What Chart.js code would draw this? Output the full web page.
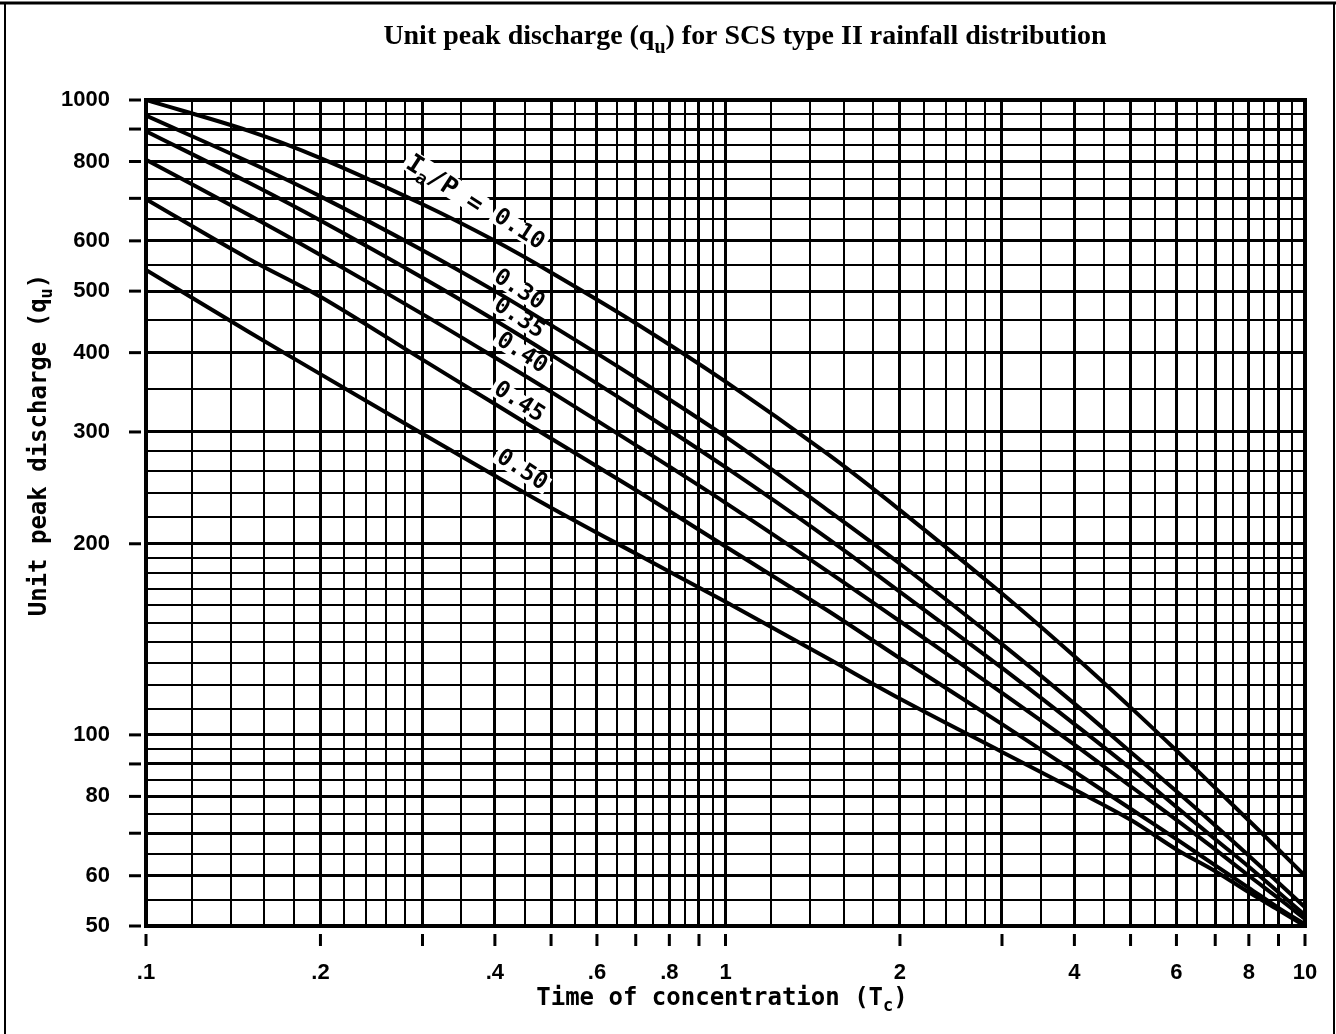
<!DOCTYPE html>
<html><head><meta charset="utf-8">
<script src="https://cdn.jsdelivr.net/npm/chart.js@4.4.0/dist/chart.umd.min.js"></script>
<style>html,body{margin:0;padding:0;background:#fff;} #wrap{width:1336px;height:1034px;position:relative;}</style>
</head><body><div id="wrap"><canvas id="c" width="1336" height="1034"></canvas></div>
<script>
// ---- data ----
const tc   = [0.1, 0.15, 0.2, 0.3, 0.4, 0.5, 0.7, 1, 1.5, 2, 3, 4, 5, 6, 7, 8, 9, 10];
const q010 = [1000, 895, 810, 685, 600, 535, 445, 360, 277, 226, 167, 133, 110.5, 94.5, 82.5, 73.3, 66, 60];
const q030 = [945, 800, 705, 580, 500, 442, 365, 295, 226, 186, 139, 112, 94, 81.5, 72, 64.5, 58.5, 53.5];
const q035 = [893, 742, 646, 525, 450, 397, 327, 264, 204, 168, 127.5, 104, 88.5, 77, 68.5, 62, 56.5, 52];
const q040 = [805, 660, 570, 460, 393, 347, 286, 232, 181, 151, 116.5, 96.5, 83, 73.5, 66, 60, 55.3, 51.3];
const q045 = [698, 563, 490, 390, 332, 293, 243, 198, 157, 132, 104, 87.5, 76.5, 68.5, 62.3, 57.4, 53.4, 50.3];
const q050 = [540, 432, 370, 298, 256, 228, 193, 162, 132, 114, 94, 82, 73.5, 66, 61, 56.5, 53, 50];
const seriesNames = ['0.10', '0.30', '0.35', '0.40', '0.45', '0.50'];
const seriesValues = [q010, q030, q035, q040, q045, q050];

// grid / tick values
const xGrid = [0.1,0.12,0.14,0.16,0.18,0.2,0.22,0.24,0.26,0.28,0.3,0.35,0.4,0.45,0.5,0.55,0.6,0.65,0.7,0.75,0.8,0.85,0.9,0.95,1,1.2,1.4,1.6,1.8,2,2.2,2.4,2.6,2.8,3,3.5,4,4.5,5,5.5,6,6.5,7,7.5,8,8.5,9,9.5,10];
const yGrid = [50,55,60,65,70,75,80,85,90,95,100,110,120,130,140,150,160,170,180,190,200,220,240,260,280,300,350,400,450,500,550,600,650,700,750,800,850,900,950,1000];
const xMajor = [0.1,0.2,0.3,0.4,0.5,0.6,0.7,0.8,0.9,1,2,3,4,5,6,7,8,9,10];
const yMajor = [50,60,70,80,90,100,200,300,400,500,600,700,800,900,1000];
const xLabelVals = [0.1,0.2,0.4,0.6,0.8,1,2,4,6,8,10];
const xLabelText = ['.1','.2','.4','.6','.8','1','2','4','6','8','10'];
const yLabelVals = [50,60,80,100,200,300,400,500,600,800,1000];
const yLabelText = ['50','60','80','100','200','300','400','500','600','800','1000'];

// curve label anchors (data coordinates)
const labelTc = [0.44, 0.44, 0.44, 0.445, 0.44, 0.445];
const labelQ  = [625, 502, 453, 399, 334, 261];
const headTc = 0.327, headQ = 735;

const near = (a, b) => Math.abs(a - b) < 1e-9 * Math.max(1, Math.abs(b));
const inList = (v, list) => list.some(u => near(v, u));
const labelFor = (v, vals, txt) => { const i = vals.findIndex(u => near(v, u)); return i >= 0 ? txt[i] : ''; };

function drawRich(ctx, parts, cx, cy, size, family, weight) {
  const sub = Math.round(size * 0.72);
  let total = 0;
  const ws = parts.map(p => { ctx.font = `${weight} ${p.sub ? sub : size}px ${family}`; const w = ctx.measureText(p.t).width; total += w; return w; });
  let xx = cx - total / 2;
  parts.forEach((p, i) => {
    ctx.font = `${weight} ${p.sub ? sub : size}px ${family}`;
    ctx.fillText(p.t, xx, cy + (p.sub ? size * 0.32 : 0));
    xx += ws[i];
  });
  return total;
}

const deco = {
  id: 'deco',
  beforeDatasetsDraw(chart) {
    const {ctx, chartArea: a, scales: {x, y}} = chart;
    ctx.save();
    ctx.strokeStyle = '#000'; ctx.fillStyle = '#000';
    // tick marks outside the plot
    ctx.lineWidth = 3;
    xMajor.forEach(v => { const px = x.getPixelForValue(v); ctx.beginPath(); ctx.moveTo(px, a.bottom + 8); ctx.lineTo(px, a.bottom + 20); ctx.stroke(); });
    yMajor.forEach(v => { const py = y.getPixelForValue(v); ctx.beginPath(); ctx.moveTo(a.left - 17, py); ctx.lineTo(a.left - 5, py); ctx.stroke(); });
    // curve labels
    const ang = 33 * Math.PI / 180;
    const fam = '"DejaVu Sans Mono", monospace';
    ctx.textBaseline = 'middle'; ctx.textAlign = 'left';
    seriesNames.forEach((t, i) => {
      const px = x.getPixelForValue(labelTc[i]), py = y.getPixelForValue(labelQ[i]);
      ctx.save(); ctx.translate(px, py); ctx.rotate(ang);
      ctx.font = `bold 23px ${fam}`;
      const w = ctx.measureText(t).width;
      ctx.fillStyle = '#fff'; ctx.fillRect(-w / 2 - 3, -9, w + 6, 18);
      ctx.fillStyle = '#000';
      drawRich(ctx, [{t}], 0, 0, 23, fam, 'bold');
      ctx.restore();
    });
    {
      const px = x.getPixelForValue(headTc), py = y.getPixelForValue(headQ);
      ctx.save(); ctx.translate(px, py); ctx.rotate(ang);
      ctx.fillStyle = '#fff'; ctx.fillRect(-46, -13, 92, 22);
      ctx.fillStyle = '#000';
      drawRich(ctx, [{t: 'I'}, {t: 'a', sub: true}, {t: '/P ='}], 0, 0, 25, fam, 'bold');
      ctx.restore();
    }
    ctx.restore();
  },
  afterDraw(chart) {
    const {ctx, chartArea: a} = chart;
    ctx.save();
    ctx.strokeStyle = '#000'; ctx.fillStyle = '#000';
    // plot frame
    ctx.lineWidth = 4;
    ctx.strokeRect(a.left, a.top, a.right - a.left, a.bottom - a.top);
    // outer figure frame
    ctx.lineWidth = 3; ctx.beginPath(); ctx.moveTo(0, 3); ctx.lineTo(1336, 3); ctx.stroke();
    ctx.lineWidth = 2; ctx.beginPath(); ctx.moveTo(5, 3); ctx.lineTo(5, 1034); ctx.stroke();
    ctx.beginPath(); ctx.moveTo(1334, 3); ctx.lineTo(1334, 1034); ctx.stroke();
    // title
    ctx.textAlign = 'left'; ctx.textBaseline = 'alphabetic';
    const tParts = [{t: 'Unit peak discharge (q'}, {t: 'u', sub: true}, {t: ') for SCS type II rainfall distribution'}];
    const serif = '"Liberation Serif", serif';
    ctx.globalAlpha = 0;
    const w0 = drawRich(ctx, tParts, 745, 44, 23, serif, 'bold');
    ctx.globalAlpha = 1;
    const size = Math.max(18, Math.min(28, 23 * 724 / w0));
    drawRich(ctx, tParts, 745, 44, size, serif, 'bold');
    // axis titles
    const mono = '"DejaVu Sans Mono", monospace';
    ctx.textBaseline = 'middle';
    drawRich(ctx, [{t: 'Time of concentration (T'}, {t: 'c', sub: true}, {t: ')'}], 722, 999, 24, mono, 'bold');
    ctx.save(); ctx.translate(40, 445); ctx.rotate(-Math.PI / 2);
    drawRich(ctx, [{t: 'Unit peak discharge (q'}, {t: 'u', sub: true}, {t: ')'}], 0, 0, 24, mono, 'bold');
    ctx.restore();
    ctx.restore();
  }
};

const datasets = seriesValues.map((vals, i) => ({
  label: 'Ia/P = ' + seriesNames[i],
  data: tc.map((t, j) => ({x: t, y: vals[j]})),
  showLine: true, borderColor: '#000', backgroundColor: '#000',
  borderWidth: 4, pointRadius: 0, tension: 0.35, fill: false
}));

const tickFont = {family: '"Liberation Sans", sans-serif', weight: 'bold', size: 22};
const zeroPad = s => { s.paddingLeft = 0; s.paddingRight = 0; s.paddingTop = 0; s.paddingBottom = 0; };

new Chart(document.getElementById('c'), {
  type: 'scatter',
  data: {datasets},
  plugins: [deco],
  options: {
    responsive: false, animation: false, devicePixelRatio: 1,
    layout: {padding: {left: 0, top: 100, right: 31, bottom: 0}},
    plugins: {legend: {display: false}, tooltip: {enabled: false}, title: {display: false}},
    scales: {
      x: {
        type: 'logarithmic', position: 'bottom', min: 0.1, max: 10,
        afterBuildTicks: s => { s.ticks = xGrid.map(v => ({value: v})); },
        afterFit: s => { s.height = 108; zeroPad(s); },
        grid: {color: '#000', lineWidth: c => (c.tick && inList(c.tick.value, xMajor)) ? 3 : 2, drawTicks: false},
        border: {display: true, color: '#000', width: 4},
        ticks: {autoSkip: false, maxRotation: 0, minRotation: 0, padding: 34, color: '#000', font: tickFont,
          callback: v => labelFor(v, xLabelVals, xLabelText)}
      },
      y: {
        type: 'logarithmic', position: 'left', min: 50, max: 1000,
        afterBuildTicks: s => { s.ticks = yGrid.map(v => ({value: v})); },
        afterFit: s => { s.width = 146; zeroPad(s); },
        grid: {color: '#000', lineWidth: c => (c.tick && inList(c.tick.value, yMajor)) ? 3 : 2, drawTicks: false},
        border: {display: true, color: '#000', width: 4},
        ticks: {autoSkip: false, padding: 36, color: '#000', font: tickFont,
          callback: v => labelFor(v, yLabelVals, yLabelText)}
      }
    }
  }
});
</script></body></html>
